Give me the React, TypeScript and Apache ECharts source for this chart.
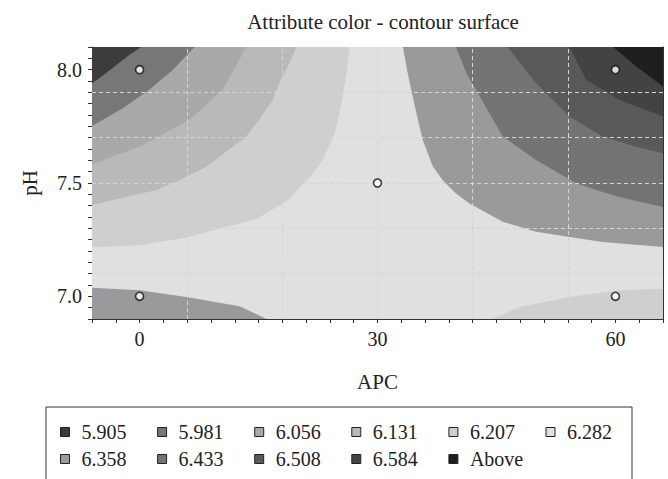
import { useEffect, useRef } from 'react';
import * as echarts from 'echarts';

const FONT = '"Liberation Serif", "DejaVu Serif", serif';

// Axis ticks / labels
const xTickLabels = [0, 30, 60];
const yTickLabels = [7.0, 7.5, 8.0];
const xGridLines = [6, 18, 30, 42, 54];
const yGridLines = [7.1, 7.3, 7.5, 7.7, 7.9];

// Legend levels and colours
const levels = ['5.905', '5.981', '6.056', '6.131', '6.207', '6.282', '6.358', '6.433', '6.508', '6.584', 'Above'];
const levelColors = ['#3c3c3e', '#777779', '#a9a9ab', '#b9b9bb', '#cfcfd1', '#e0e0e2', '#9a9a9c', '#737375', '#59595b', '#434345', '#1f1f21'];

// Design points
const pointAPC = [0, 60, 30, 0, 60];
const pointPH = [8.0, 8.0, 7.5, 7.0, 7.0];

// Contour regions: [APC, pH]
const full6282 = [[-6, 6.9], [66, 6.9], [66, 8.1], [-6, 8.1]];
const left6207 = [[26.5, 8.1], [26.1, 7.985], [25.4, 7.84], [24.6, 7.72], [23.1, 7.6], [21.6, 7.53], [20.2, 7.48], [18.9, 7.43], [18.0, 7.41], [14.7, 7.34], [11.3, 7.31], [5.9, 7.26], [0, 7.225], [-6, 7.217], [-6, 8.1]];
const left6131 = [[19.8, 8.1], [18.7, 8.015], [17.6, 7.94], [16.8, 7.867], [15.3, 7.79], [13.45, 7.705], [8.4, 7.572], [5.04, 7.513], [2.14, 7.469], [-1.26, 7.442], [-6, 7.403], [-6, 8.1]];
const left6056 = [[13.45, 8.1], [10.5, 7.912], [6.3, 7.779], [3.15, 7.72], [0, 7.66], [-3.15, 7.62], [-6, 7.58], [-6, 8.1]];
const left5981 = [[6.93, 8.1], [4.2, 8.0], [1.26, 7.912], [-2.1, 7.83], [-6, 7.752], [-6, 8.1]];
const left5905 = [[0.21, 8.1], [-1.26, 8.066], [-3.37, 8.008], [-5.04, 7.963], [-6, 7.94], [-6, 8.1]];
const right6358 = [[33.2, 8.1], [33.8, 7.985], [34.7, 7.84], [35.7, 7.69], [37.0, 7.572], [38.2, 7.513], [39.9, 7.454], [41.6, 7.41], [45.8, 7.329], [50.0, 7.285], [54.2, 7.262], [58.4, 7.24], [66, 7.218], [66, 8.1]];
const right6433 = [[39.9, 8.1], [41.2, 7.985], [42.9, 7.882], [45.8, 7.705], [50.0, 7.602], [55.0, 7.5], [58.0, 7.465], [60.5, 7.438], [66, 7.394], [66, 8.1]];
const right6508 = [[46.4, 8.1], [50.0, 7.94], [54.2, 7.793], [58.4, 7.705], [62.6, 7.66], [66, 7.631], [66, 8.1]];
const right6584 = [[54.2, 8.1], [56.3, 7.956], [60.5, 7.867], [66, 7.793], [66, 8.1]];
const rightAbove = [[59.7, 8.1], [62.6, 8.015], [66, 7.926], [66, 8.1]];
const bottomLeft6358 = [[-6, 7.038], [0, 7.027], [5.9, 6.997], [12.6, 6.956], [14.5, 6.925], [16.0, 6.9], [-6, 6.9]];
const bottomRight6207 = [[44.5, 6.9], [47.9, 6.953], [54.2, 6.997], [60.5, 7.027], [66, 7.034], [66, 6.9]];

// draw order (later on top) : level -> polygons
const regionLayers: [string, number[][][]][] = [
  ['6.282', [full6282]],
  ['6.207', [left6207, bottomRight6207]],
  ['6.131', [left6131]],
  ['6.056', [left6056]],
  ['5.981', [left5981]],
  ['5.905', [left5905]],
  ['6.358', [right6358, bottomLeft6358]],
  ['6.433', [right6433]],
  ['6.508', [right6508]],
  ['6.584', [right6584]],
  ['Above', [rightAbove]],
];

function colorOf(level: string) {
  return levelColors[levels.indexOf(level)];
}

const textBase = { fontFamily: FONT, fontSize: 20, color: '#222' };

export default function App() {
  const ref = useRef<HTMLDivElement>(null);
  useEffect(() => {
    const chart = echarts.init(ref.current!, null, { renderer: 'svg' });
    const regionSeries = regionLayers.map(([level, polys]) => ({
      type: 'custom',
      name: level,
      coordinateSystem: 'cartesian2d',
      silent: true,
      clip: true,
      z: 1,
      itemStyle: { color: colorOf(level) },
      data: [polys[0][0]],
      renderItem: (_params: any, api: any) => ({
        type: 'group',
        children: polys.map((poly) => ({
          type: 'polygon',
          shape: { points: poly.map((p) => api.coord(p)) },
          style: { fill: colorOf(level), stroke: 'none' },
        })),
      }),
    }));

    const legendCommon = {
      orient: 'horizontal',
      padding: 0,
      itemWidth: 9,
      itemHeight: 9,
      itemGap: 17.6,
      icon: 'rect',
      selectedMode: false,
      itemStyle: { borderColor: '#222', borderWidth: 1 },
      textStyle: { ...textBase, width: 58, lineHeight: 20, padding: [0, 0, 0, 7] },
    };

    chart.setOption({
      animation: false,
      backgroundColor: '#ffffff',
      title: {
        text: 'Attribute color - contour surface',
        left: 378,
        top: 6,
        textAlign: 'center',
        textStyle: { ...textBase, fontSize: 21, fontWeight: 'normal' },
      },
      grid: { left: 92, top: 47, width: 571, height: 272, containLabel: false },
      legend: [
        { ...legendCommon, data: levels.slice(0, 6), left: 60, top: 422 },
        { ...legendCommon, data: levels.slice(6), left: 60, top: 449 },
      ],
      graphic: [
        {
          type: 'rect',
          shape: { x: 46, y: 407, width: 586, height: 110 },
          style: { fill: 'none', stroke: '#333', lineWidth: 1 },
          silent: true,
        },
      ],
      xAxis: [
        {
          type: 'value',
          min: -6,
          max: 66,
          interval: 3,
          position: 'bottom',
          name: 'APC',
          nameLocation: 'middle',
          nameGap: 52,
          nameTextStyle: { ...textBase, fontSize: 21 },
          axisLine: { show: true, onZero: false, lineStyle: { color: '#333', width: 1 } },
          axisTick: { show: true, inside: false, length: 4, lineStyle: { color: '#333' } },
          axisLabel: {
            ...textBase,
            margin: 10,
            formatter: (v: number) => (xTickLabels.some((t) => Math.abs(t - v) < 1e-6) ? String(Math.round(v)) : ''),
          },
          splitLine: { show: false },
        },
        {
          type: 'value',
          min: -6,
          max: 66,
          position: 'top',
          axisLine: { show: true, onZero: false, lineStyle: { color: '#333', width: 1 } },
          axisTick: { show: false },
          axisLabel: { show: false },
          splitLine: { show: false },
        },
      ],
      yAxis: [
        {
          type: 'value',
          min: 6.9,
          max: 8.1,
          interval: 0.05,
          position: 'left',
          name: 'pH',
          nameLocation: 'middle',
          nameGap: 52,
          nameRotate: 90,
          nameTextStyle: { ...textBase, fontSize: 21 },
          axisLine: { show: true, onZero: false, lineStyle: { color: '#333', width: 1 } },
          axisTick: { show: true, inside: false, length: 4, lineStyle: { color: '#333' } },
          axisLabel: {
            ...textBase,
            margin: 10,
            formatter: (v: number) => (yTickLabels.some((t) => Math.abs(t - v) < 1e-6) ? v.toFixed(1) : ''),
          },
          splitLine: { show: false },
        },
        {
          type: 'value',
          min: 6.9,
          max: 8.1,
          position: 'right',
          axisLine: { show: true, onZero: false, lineStyle: { color: '#333', width: 1 } },
          axisTick: { show: false },
          axisLabel: { show: false },
          splitLine: { show: false },
        },
      ],
      series: [
        ...regionSeries,
        {
          type: 'line',
          name: 'grid',
          data: [],
          z: 5,
          silent: true,
          markLine: {
            silent: true,
            symbol: ['none', 'none'],
            label: { show: false },
            lineStyle: { color: '#d4d4d6', type: [4, 3], width: 1 },
            data: [...xGridLines.map((x) => ({ xAxis: x })), ...yGridLines.map((y) => ({ yAxis: y }))],
          },
        },
        {
          type: 'scatter',
          name: 'points',
          z: 10,
          symbol: 'circle',
          symbolSize: 8,
          itemStyle: { color: '#ffffff', borderColor: '#111', borderWidth: 1.6 },
          data: pointAPC.map((x, i) => [x, pointPH[i]]),
        },
      ],
    });
    return () => chart.dispose();
  }, []);
  return <div ref={ref} style={{ position: 'absolute', left: 0, top: 0, width: 668, height: 479 }} />;
}
